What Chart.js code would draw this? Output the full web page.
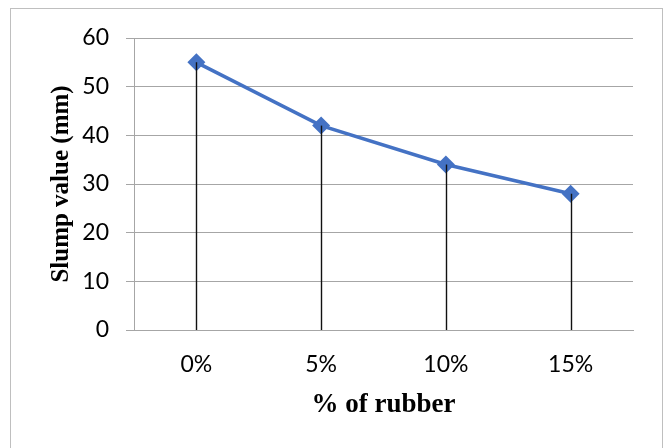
<!DOCTYPE html>
<html>
<head>
<meta charset="utf-8">
<script src="https://cdn.jsdelivr.net/npm/chart.js@4/dist/chart.umd.min.js"></script>
<style>
html,body{margin:0;padding:0;background:#fff;}
canvas{display:block;}
</style>
</head>
<body>
<canvas id="c" width="665" height="448"></canvas>
<script>
const categories = ['0%', '5%', '10%', '15%'];
const slumpValues = [55, 42, 34, 28];
const yTicks = [0, 10, 20, 30, 40, 50, 60];

const frame = {
  id: 'frame',
  beforeDraw(chart) {
    const ctx = chart.ctx;
    ctx.save();
    ctx.fillStyle = '#fff';
    ctx.fillRect(0, 0, chart.width, chart.height);
    ctx.strokeStyle = '#bfbfbf';
    ctx.lineWidth = 1;
    ctx.strokeRect(10.5, 8.5, 652, 460);
    ctx.restore();
  }
};

const dropLines = {
  id: 'dropLines',
  afterDatasetsDraw(chart) {
    const ctx = chart.ctx;
    const meta = chart.getDatasetMeta(0);
    const yScale = chart.scales.y;
    const base = yScale.getPixelForValue(0);
    ctx.save();
    ctx.strokeStyle = '#111';
    ctx.lineWidth = 1.4;
    meta.data.forEach(p => {
      ctx.beginPath();
      ctx.moveTo(Math.round(p.x) + 0.5, p.y);
      ctx.lineTo(Math.round(p.x) + 0.5, base);
      ctx.stroke();
    });
    ctx.restore();
  }
};

new Chart(document.getElementById('c'), {
  type: 'line',
  data: {
    labels: categories,
    datasets: [{
      data: slumpValues,
      borderColor: '#4472C4',
      backgroundColor: '#4472C4',
      borderWidth: 3.5,
      pointStyle: 'rectRot',
      pointRadius: 9,
      pointHoverRadius: 9,
      pointBorderWidth: 0,
      tension: 0,
      clip: false
    }]
  },
  options: {
    responsive: false,
    animation: false,
    events: [],
    layout: { padding: { left: 10, right: 32, top: 38, bottom: 0 } },
    plugins: { legend: { display: false }, tooltip: { enabled: false } },
    scales: {
      x: {
        offset: true,
        grid: { display: false, drawTicks: false },
        border: { display: true, color: '#a6a6a6', width: 1 },
        ticks: { color: '#000', padding: 21, font: { family: 'Lato', size: 23 } },
        title: {
          display: true, text: '% of rubber', color: '#000',
          font: { family: 'Liberation Serif', size: 27, weight: 'bold' },
          padding: { top: 27, bottom: 27 }
        },
        afterFit(s) { s.height = 118; }
      },
      y: {
        min: 0, max: 60,
        afterBuildTicks(s) { s.ticks = yTicks.map(v => ({ value: v })); },
        grid: { color: '#a6a6a6', lineWidth: 1, tickLength: 8, drawTicks: true },
        border: { display: true, color: '#a6a6a6', width: 1 },
        ticks: { color: '#000', padding: 17, font: { family: 'Lato', size: 23 } },
        title: {
          display: true, text: 'Slump value (mm)', color: '#000',
          font: { family: 'Liberation Serif', size: 25, weight: 'bold' },
          padding: { top: 37, bottom: 37 }
        },
        afterFit(s) { s.width = 124; }
      }
    }
  },
  plugins: [frame, dropLines]
});
</script>
</body>
</html>
